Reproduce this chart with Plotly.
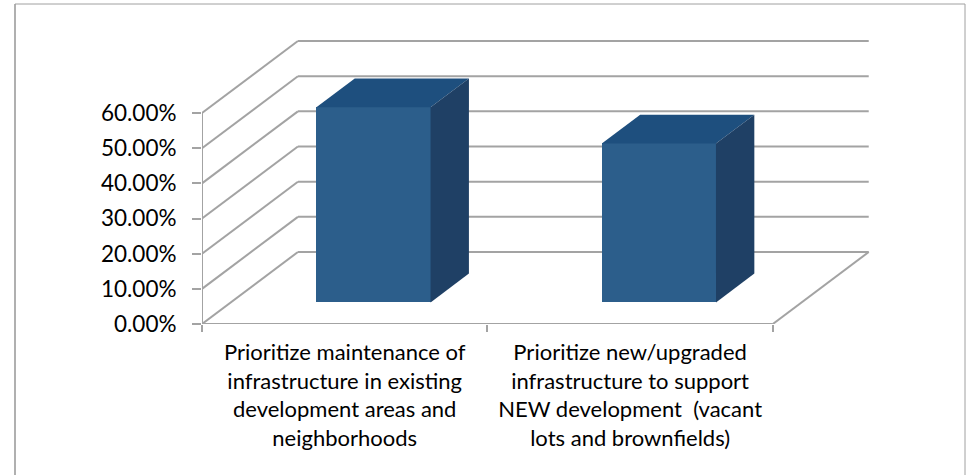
import plotly.graph_objects as go

# ---------------- data ----------------
categories = [
    "Prioritize maintenance of<br>infrastructure in existing<br>development areas and<br>neighborhoods",
    "Prioritize new/upgraded<br>infrastructure to support<br>NEW development\u00a0 (vacant<br>lots and brownfields)",
]
values = [55.5, 45.2]                      # percent
y_ticks = [0, 10, 20, 30, 40, 50, 60]
y_tick_labels = ["0.00%", "10.00%", "20.00%", "30.00%", "40.00%", "50.00%", "60.00%"]

# ---------------- style / geometry ----------------
FRONT = "#2C5E8B"
TOP = "#1E4F7E"
SIDE = "#1F4065"
GRID = "#A3A3A3"
FONT = "Lato"

X_LO, X_HI = -0.5, 1.5        # floor front extent (category units)
DEPTH_X = 0.336               # oblique depth in x units
DEPTH_Y = 20.47               # oblique depth in y units
BAR_W = 0.4
F_FRONT, F_BACK = 0.3, 0.7    # bar front/back as fraction of depth

n = len(values)
fig = go.Figure()

# front faces (library bars)
bx = [i + F_FRONT * DEPTH_X for i in range(n)]
base = F_FRONT * DEPTH_Y
fig.add_trace(go.Bar(
    x=bx, y=values, base=[base] * n, width=BAR_W,
    marker=dict(color=FRONT, line=dict(width=0)),
    hoverinfo="skip", showlegend=False,
))

ddx = (F_BACK - F_FRONT) * DEPTH_X
ddy = (F_BACK - F_FRONT) * DEPTH_Y
for i, v in enumerate(values):
    xl = bx[i] - BAR_W / 2
    xr = bx[i] + BAR_W / 2
    yb = base
    yt = base + v
    # top face
    fig.add_trace(go.Scatter(
        x=[xl, xr, xr + ddx, xl + ddx, xl],
        y=[yt, yt, yt + ddy, yt + ddy, yt],
        fill="toself", fillcolor=TOP, mode="lines",
        line=dict(width=0, color=TOP), hoverinfo="skip", showlegend=False,
    ))
    # side face
    fig.add_trace(go.Scatter(
        x=[xr, xr, xr + ddx, xr + ddx, xr],
        y=[yb, yt, yt + ddy, yb + ddy, yb],
        fill="toself", fillcolor=SIDE, mode="lines",
        line=dict(width=0, color=SIDE), hoverinfo="skip", showlegend=False,
    ))

# front vertical axis line
fig.add_trace(go.Scatter(
    x=[X_LO, X_LO], y=[y_ticks[0], y_ticks[-1]], mode="lines",
    line=dict(color=GRID, width=2), hoverinfo="skip", showlegend=False,
))

shapes = []
gl = dict(color=GRID, width=2)
for t in y_ticks:
    # side wall diagonal
    shapes.append(dict(type="line", xref="x", yref="y", layer="below",
                       x0=X_LO, y0=t, x1=X_LO + DEPTH_X, y1=t + DEPTH_Y, line=gl))
    # back wall gridline
    shapes.append(dict(type="line", xref="x", yref="y", layer="below",
                       x0=X_LO + DEPTH_X, y0=t + DEPTH_Y, x1=X_HI + DEPTH_X, y1=t + DEPTH_Y, line=gl))
# floor front edge and right edge
shapes.append(dict(type="line", xref="x", yref="y", layer="below",
                   x0=X_LO, y0=0, x1=X_HI, y1=0, line=gl))
shapes.append(dict(type="line", xref="x", yref="y", layer="below",
                   x0=X_HI, y0=0, x1=X_HI + DEPTH_X, y1=DEPTH_Y, line=gl))

# outer chart frame
PW, PH, L, B = 685, 295, 202, 151
def px(xp):
    return (xp - L) / PW
def py(yp):
    return (475 - B - yp) / PH
frame = "#A0A0A0"
shapes.append(dict(type="line", xref="paper", yref="paper", x0=px(15), x1=px(15), y0=py(4), y1=py(490),
                   line=dict(color="#B0B0B0", width=2)))
shapes.append(dict(type="line", xref="paper", yref="paper", x0=px(15), x1=px(965), y0=py(4), y1=py(4),
                   line=dict(color=frame, width=1)))
shapes.append(dict(type="line", xref="paper", yref="paper", x0=px(965), x1=px(965), y0=py(4), y1=py(490),
                   line=dict(color=frame, width=1)))

fig.update_layout(
    width=973, height=475, autosize=False,
    margin=dict(l=L, r=973 - L - PW, t=475 - B - PH, b=B, pad=0),
    paper_bgcolor="white", plot_bgcolor="white",
    shapes=shapes, showlegend=False, bargap=0,
    font=dict(family=FONT, size=22, color="#000000"),
    xaxis=dict(
        range=[X_LO, X_HI + DEPTH_X + 0.064], tickmode="array",
        tickvals=list(range(n)), ticktext=categories,
        ticks="", showgrid=False, zeroline=False, showline=False,
        tickfont=dict(family=FONT, size=22, color="#000000"),
        ticklabelstandoff=13,
        minor=dict(tickmode="array", tickvals=[X_LO + k for k in range(n + 1)],
                   ticks="outside", ticklen=7, tickcolor=GRID, tickwidth=1.5, showgrid=False),
        automargin=False, fixedrange=True,
    ),
    yaxis=dict(
        range=[0, PH / (211 / 60)], tickmode="array",
        tickvals=y_ticks, ticktext=y_tick_labels,
        ticks="outside", ticklen=9, tickcolor=GRID, tickwidth=1.5,
        showgrid=False, zeroline=False, showline=False,
        tickfont=dict(family=FONT, size=22.5, color="#000000"),
        ticklabelstandoff=11,
        automargin=False, fixedrange=True,
    ),
)

fig.write_html("out.html")
